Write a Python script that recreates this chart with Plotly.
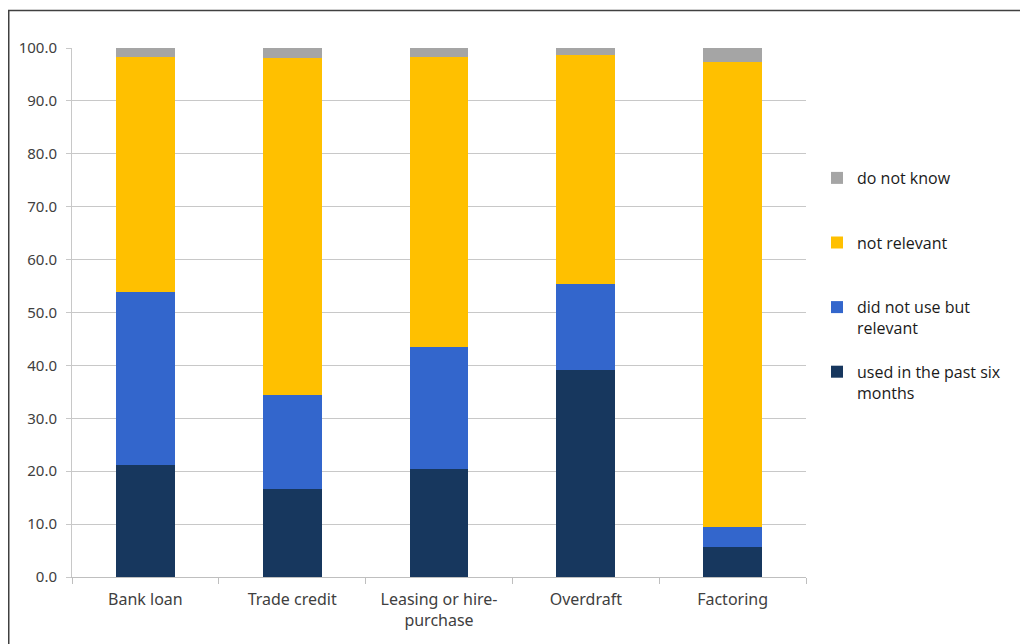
import plotly.graph_objects as go

categories = ["Bank loan", "Trade credit", "Leasing or hire-<br>purchase", "Overdraft", "Factoring"]
used_past_six_months = [21.2, 16.6, 20.4, 39.1, 5.7]
did_not_use_but_relevant = [32.7, 17.8, 23.1, 16.3, 3.8]
not_relevant = [44.4, 63.7, 54.8, 43.3, 87.9]
do_not_know = [1.7, 1.9, 1.7, 1.3, 2.6]

series = [
    ("used in the past six<br>months", used_past_six_months, "#17375E"),
    ("did not use but<br>relevant", did_not_use_but_relevant, "#3366CC"),
    ("not relevant<br>\u00a0", not_relevant, "#FFC000"),
    ("do not know<br>\u00a0", do_not_know, "#A5A5A5"),
]

fig = go.Figure()
n = len(series)
for i, (name, vals, col) in enumerate(series):
    fig.add_trace(go.Bar(x=categories, y=vals, name=name, marker_color=col,
                         marker_line_width=0, legendgroup=f"g{i}",
                         legendrank=n - i))

# page has an 8px body margin; figure coordinates are page - 8
W, H = 1028, 644
ml, mt = 64, 40
pw, ph = 734, 529
mr = W - ml - pw
mb = H - mt - ph
ybot = mt + ph  # figure y of plot bottom

fig.update_layout(
    width=W, height=H, barmode="stack", bargap=0.6,
    margin=dict(l=ml, r=mr, t=mt, b=mb),
    paper_bgcolor="white", plot_bgcolor="white",
    font=dict(family="Noto Sans, sans-serif", size=15, color="#404040"),
    showlegend=True,
    legend=dict(x=(809 - ml) / pw, y=(ybot - 153) / ph, xanchor="left", yanchor="top",
                traceorder="grouped", tracegroupgap=20, valign="top",
                font=dict(family="Open Sans, Noto Sans, sans-serif", size=16, color="#1a1a1a"),
                itemwidth=30, bgcolor="rgba(0,0,0,0)"),
    xaxis=dict(showline=True, linecolor="#BFBFBF", linewidth=1, ticks="outside",
               tickson="boundaries", ticklen=6, tickcolor="#BFBFBF",
               ticklabelstandoff=8,
               tickfont=dict(family="Noto Sans, sans-serif", size=16, color="#404040")),
    yaxis=dict(range=[0, 100], dtick=10, tickformat=".1f", showgrid=True,
               gridcolor="#C8C8C8", gridwidth=1, showline=True, linecolor="#C8C8C8",
               ticks="outside", ticklen=5, tickcolor="#C8C8C8", zeroline=False,
               ticklabelstandoff=6,
               tickfont=dict(family="Noto Sans, sans-serif", size=15, color="#404040")),
    shapes=[dict(type="rect", xref="paper", yref="paper",
                 x0=(0.75 - ml) / pw, x1=(W + 5 - ml) / pw,
                 y0=(ybot - (H + 5)) / ph, y1=(ybot - 2.5) / ph,
                 line=dict(color="#404040", width=1.5), layer="below")],
)

fig.write_html("out.html")
